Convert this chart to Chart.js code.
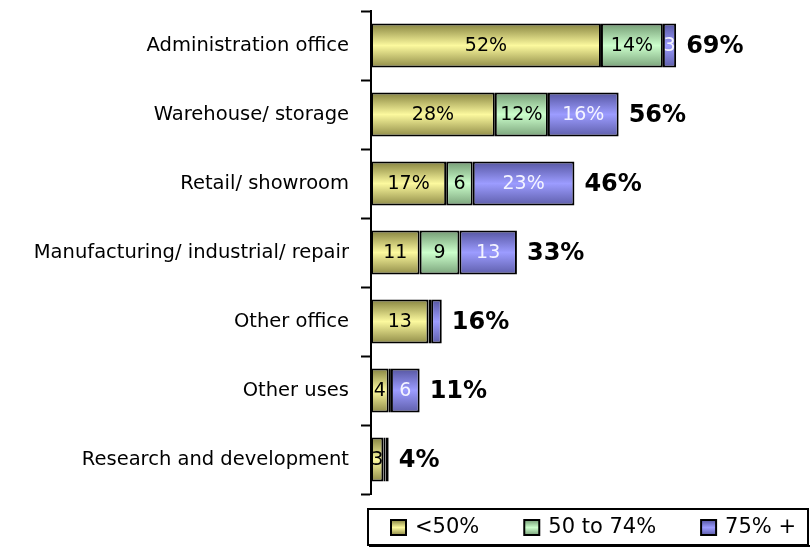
<!DOCTYPE html>
<html>
<head>
<meta charset="utf-8">
<script src="https://cdn.jsdelivr.net/npm/chart.js@4/dist/chart.umd.min.js"></script>
<style>
  body { margin: 0; background: #fff; }
  #wrap { width: 810px; height: 549px; }
</style>
</head>
<body>
<div id="wrap"><canvas id="myChart" width="810" height="549"></canvas></div>
<script>
  const categories = ['Administration office', 'Warehouse/ storage', 'Retail/ showroom',
    'Manufacturing/ industrial/ repair', 'Other office', 'Other uses', 'Research and development'];
  const seriesNames = ['<50%', '50 to 74%', '75% +'];
  const under50 = [52, 28, 17, 11, 13, 4, 2.8];
  const from50to74 = [14, 12, 6, 9, 0.6, 0.5, 0.5];
  const over75 = [3, 16, 23, 13, 2.4, 6.5, 0.7];
  const under50Labels = ['52%', '28%', '17%', '11', '13', '4', '3'];
  const from50to74Labels = ['14%', '12%', '6', '9', '', '', ''];
  const over75Labels = ['3', '16%', '23%', '13', '', '6', ''];
  const totalLabels = ['69%', '56%', '46%', '33%', '16%', '11%', '4%'];

  const yellow = ['#85823f', '#fcf99e', '#8f8b47'];
  const green = ['#739a73', '#ccffcc', '#7aa27a'];
  const blue = ['#5555a0', '#9c9cff', '#5e5eaa'];
  const BAR_PCT = 0.64;

  function barFill(stops) {
    return function (ctx) {
      const chart = ctx.chart;
      const y = chart.scales.y;
      if (!y || ctx.dataIndex === undefined) return stops[1];
      const band = y.getPixelForValue(1) - y.getPixelForValue(0);
      const h = band * BAR_PCT;
      const cy = y.getPixelForValue(ctx.dataIndex);
      if (!isFinite(h) || !isFinite(cy) || h <= 0) return stops[1];
      const g = chart.ctx.createLinearGradient(0, cy - h / 2, 0, cy + h / 2);
      g.addColorStop(0, stops[0]);
      g.addColorStop(0.5, stops[1]);
      g.addColorStop(1, stops[2]);
      return g;
    };
  }

  const segLabels = [under50Labels, from50to74Labels, over75Labels];
  const segColors = ['#000', '#000', '#f4f4ff'];

  const labelPlugin = {
    id: 'labelPlugin',
    afterDatasetsDraw(chart) {
      const c = chart.ctx;
      c.save();
      c.textBaseline = 'middle';
      c.textAlign = 'center';
      c.font = '19px "DejaVu Sans"';
      chart.data.datasets.forEach((ds, i) => {
        const meta = chart.getDatasetMeta(i);
        meta.data.forEach((bar, j) => {
          const txt = segLabels[i][j];
          if (!txt) return;
          c.fillStyle = segColors[i];
          c.fillText(txt, (bar.x + bar.base) / 2, bar.y + 1);
        });
      });
      const last = chart.getDatasetMeta(chart.data.datasets.length - 1);
      c.textAlign = 'left';
      c.fillStyle = '#000';
      c.font = 'bold 24px "DejaVu Sans"';
      last.data.forEach((bar, j) => {
        c.fillText(totalLabels[j], bar.x + 10, bar.y + 1);
      });
      c.restore();
    }
  };

  const legendPlugin = {
    id: 'legendPlugin',
    afterDraw(chart) {
      const c = chart.ctx;
      c.save();
      // box with a little shadow underneath
      c.fillStyle = '#000';
      c.fillRect(369, 545, 441, 2);
      c.strokeStyle = '#000';
      c.lineWidth = 2;
      c.strokeRect(368, 509, 440, 36);
      c.font = '21px "DejaVu Sans"';
      c.textBaseline = 'middle';
      c.textAlign = 'left';
      const fills = [yellow, green, blue];
      let x = 391;
      const cy = 527;
      seriesNames.forEach((name, i) => {
        const g = c.createLinearGradient(0, cy - 7, 0, cy + 8);
        g.addColorStop(0, fills[i][0]);
        g.addColorStop(0.5, fills[i][1]);
        g.addColorStop(1, fills[i][2]);
        c.fillStyle = g;
        c.fillRect(x, cy - 7, 15, 15);
        c.lineWidth = 2;
        c.strokeRect(x, cy - 7, 15, 15);
        c.fillStyle = '#000';
        c.fillText(name, x + 24, cy + 1);
        x += 24 + c.measureText(name).width + 45;
      });
      c.restore();
    }
  };

  const ctx = document.getElementById('myChart').getContext('2d');
  const myChart = new Chart(ctx, {
    type: 'bar',
    data: {
      labels: categories,
      datasets: [
        { label: seriesNames[0], data: under50, backgroundColor: barFill(yellow) },
        { label: seriesNames[1], data: from50to74, backgroundColor: barFill(green) },
        { label: seriesNames[2], data: over75, backgroundColor: barFill(blue) }
      ]
    },
    options: {
      indexAxis: 'y',
      responsive: false,
      animation: false,
      layout: { padding: { top: 11, bottom: 55, left: 0, right: 41 } },
      datasets: {
        bar: {
          borderColor: '#000',
          borderWidth: 2,
          borderSkipped: false,
          categoryPercentage: 1,
          barPercentage: BAR_PCT
        }
      },
      plugins: {
        legend: { display: false },
        tooltip: { enabled: false }
      },
      scales: {
        x: { stacked: true, display: false, min: 0, max: 90 },
        y: {
          stacked: true,
          afterFit: (s) => {
            s.width = 371;
            s.paddingTop = 0;
            s.paddingBottom = 0;
          },
          border: { display: true, color: '#000', width: 2 },
          grid: {
            drawOnChartArea: false,
            drawTicks: true,
            tickLength: 10,
            tickColor: '#000',
            tickWidth: 2,
            offset: true
          },
          ticks: {
            color: '#000',
            padding: 12,
            font: { family: '"DejaVu Sans"', size: 19.5 }
          }
        }
      }
    },
    plugins: [labelPlugin, legendPlugin]
  });
  myChart.update();
</script>
</body>
</html>
